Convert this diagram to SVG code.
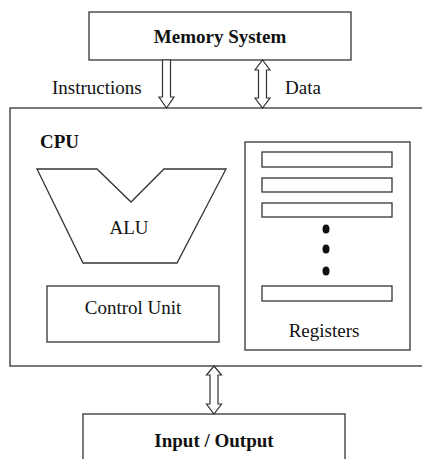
<svg xmlns="http://www.w3.org/2000/svg" width="422" height="459" viewBox="0 0 422 459">
<style>
.box{fill:#fff;stroke:#333;stroke-width:1.3}
.arr{fill:#fff;stroke:#333;stroke-width:1.2;stroke-linejoin:miter}
.t{font-family:"Liberation Serif","Times New Roman",serif;font-size:19px;fill:#111}
.b{font-weight:bold;text-anchor:middle}
.m{text-anchor:middle}
.dot{fill:#111}
</style>
<rect width="422" height="459" fill="#fff"/>
<g id="memory">
<rect class="box" x="89" y="12" width="262" height="48"/>
<text class="t b" x="220" y="43">Memory System</text>
</g>
<g id="cpu">
<rect class="box" x="10" y="108" width="430" height="258"/>
<text class="t" x="40" y="148" font-weight="bold">CPU</text>
</g>
<g id="alu">
<polygon class="box" points="37,169 97,169 131,202 164,169 226,169 177,263 83,263"/>
<text class="t m" x="129" y="234">ALU</text>
</g>
<g id="control">
<rect class="box" x="47" y="286" width="172" height="56"/>
<text class="t m" x="133" y="314">Control Unit</text>
</g>
<g id="registers">
<rect class="box" x="245" y="142" width="165" height="208"/>
<rect class="box" x="262" y="152" width="130" height="15"/>
<rect class="box" x="262" y="178" width="130" height="14"/>
<rect class="box" x="262" y="203" width="130" height="14"/>
<ellipse class="dot" cx="326" cy="229" rx="3.5" ry="4.5"/>
<ellipse class="dot" cx="326" cy="249" rx="3.5" ry="4.5"/>
<ellipse class="dot" cx="326" cy="271" rx="3.5" ry="4.5"/>
<rect class="box" x="262" y="286" width="130" height="15"/>
<text class="t m" x="324" y="337">Registers</text>
</g>
<g id="io">
<rect class="box" x="83" y="414" width="262" height="60"/>
<text class="t b" x="214" y="447">Input / Output</text>
</g>
<g id="connectors">
<polygon class="arr" points="162.5,60 170.5,60 170.5,97 174,97 166.5,108 159,97 162.5,97"/>
<text class="t" x="52" y="94">Instructions</text>
<polygon class="arr" points="262.5,60 270,70 266.5,70 266.5,98 270,98 262.5,108 255,98 258.5,98 258.5,70 255,70"/>
<text class="t" x="285" y="94">Data</text>
<polygon class="arr" points="214,366 221.5,375 218,375 218,404 221.5,404 214,414 206.5,404 210,404 210,375 206.5,375"/>
</g>
</svg>
